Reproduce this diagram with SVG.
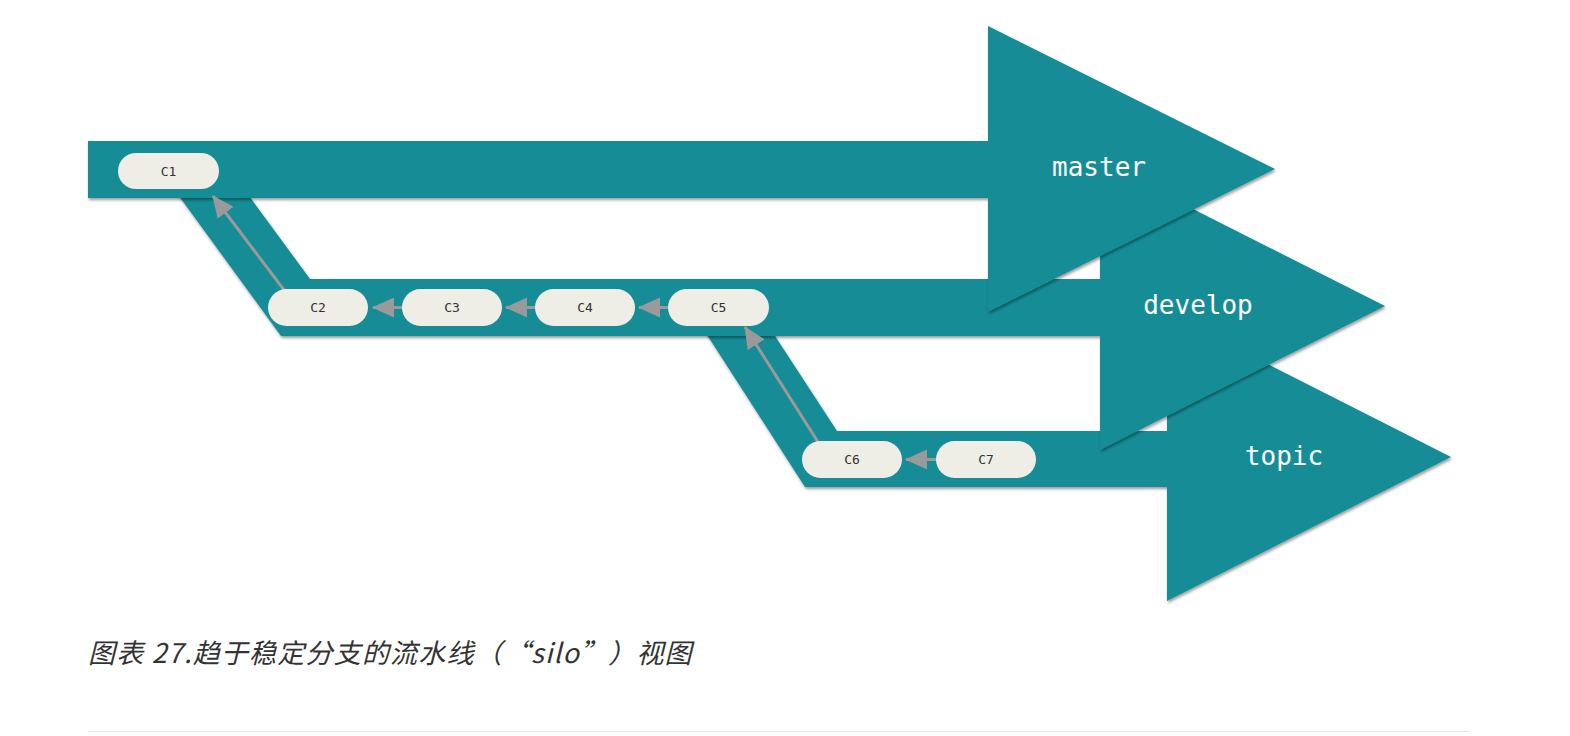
<svg xmlns="http://www.w3.org/2000/svg" width="1570" height="736" viewBox="0 0 1570 736">
<style>
.band{fill:#168d96;filter:url(#sh)}
.pill{fill:#eeede6}
.pt{font-family:"DejaVu Sans Mono","Liberation Mono",monospace;font-size:13px;fill:#333;text-anchor:middle}
.bl{font-family:"DejaVu Sans Mono","Liberation Mono",monospace;font-size:26px;fill:#fff;text-anchor:middle}
.ln{stroke:#9a9a9a;stroke-width:3;fill:none;marker-end:url(#ah)}
.cap{font-family:"Noto Sans CJK SC","Noto Sans",sans-serif;font-size:27px;letter-spacing:1.2px;font-style:italic;fill:#333}
</style>
<defs>
<filter id="sh" x="-5%" y="-5%" width="110%" height="115%">
<feDropShadow dx="1" dy="2" stdDeviation="1.5" flood-color="#000" flood-opacity="0.4"/>
</filter>
<marker id="ah" viewBox="0 0 22 20" refX="21" refY="10" markerWidth="22" markerHeight="20" markerUnits="userSpaceOnUse" orient="auto">
<path d="M0,0 L22,10 L0,20 z" fill="#9a9a9a"/>
</marker>
</defs>
<rect width="1570" height="736" fill="#fff"/>
<g id="topic">
<polygon class="band" points="691,310 758,310 837,431 1167,431 1167,313 1451,457 1167,601 1167,487 805,487"/>
<text class="bl" x="1284" y="465">topic</text>
</g>
<g id="develop">
<polygon class="band" points="160,170 230,170 310,279 1100,279 1100,162 1385,306 1100,450 1100,336 281,336"/>
<text class="bl" x="1198" y="314">develop</text>
</g>
<g id="master">
<polygon class="band" points="88,141 988,141 988,26 1275,169 988,312 988,198 88,198"/>
<text class="bl" x="1099" y="176">master</text>
</g>
<g id="connectors">
<line class="ln" x1="284" y1="290" x2="213" y2="196"/>
<line class="ln" x1="404" y1="307.5" x2="373" y2="307.5"/>
<line class="ln" x1="537" y1="307.5" x2="506" y2="307.5"/>
<line class="ln" x1="670" y1="307.5" x2="639" y2="307.5"/>
<line class="ln" x1="818" y1="442" x2="745" y2="327"/>
<line class="ln" x1="938" y1="459.5" x2="906" y2="459.5"/>
</g>
<g id="C1"><rect class="pill" x="118" y="153" width="101" height="36" rx="18"/><text class="pt" x="168.5" y="175.5">C1</text></g>
<g id="C2"><rect class="pill" x="268" y="289" width="100" height="37" rx="18.5"/><text class="pt" x="318" y="312">C2</text></g>
<g id="C3"><rect class="pill" x="402" y="289" width="100" height="37" rx="18.5"/><text class="pt" x="452" y="312">C3</text></g>
<g id="C4"><rect class="pill" x="535" y="289" width="100" height="37" rx="18.5"/><text class="pt" x="585" y="312">C4</text></g>
<g id="C5"><rect class="pill" x="668" y="289" width="101" height="37" rx="18.5"/><text class="pt" x="718.5" y="312">C5</text></g>
<g id="C6"><rect class="pill" x="802" y="441" width="100" height="37" rx="18.5"/><text class="pt" x="852" y="464">C6</text></g>
<g id="C7"><rect class="pill" x="936" y="441" width="100" height="37" rx="18.5"/><text class="pt" x="986" y="464">C7</text></g>
<text class="cap" x="88" y="663">图表 27.趋于稳定分支的流水线（“silo”）视图</text>
<line x1="88" y1="731.5" x2="1470" y2="731.5" stroke="#e6e6e6" stroke-width="1"/>
</svg>
